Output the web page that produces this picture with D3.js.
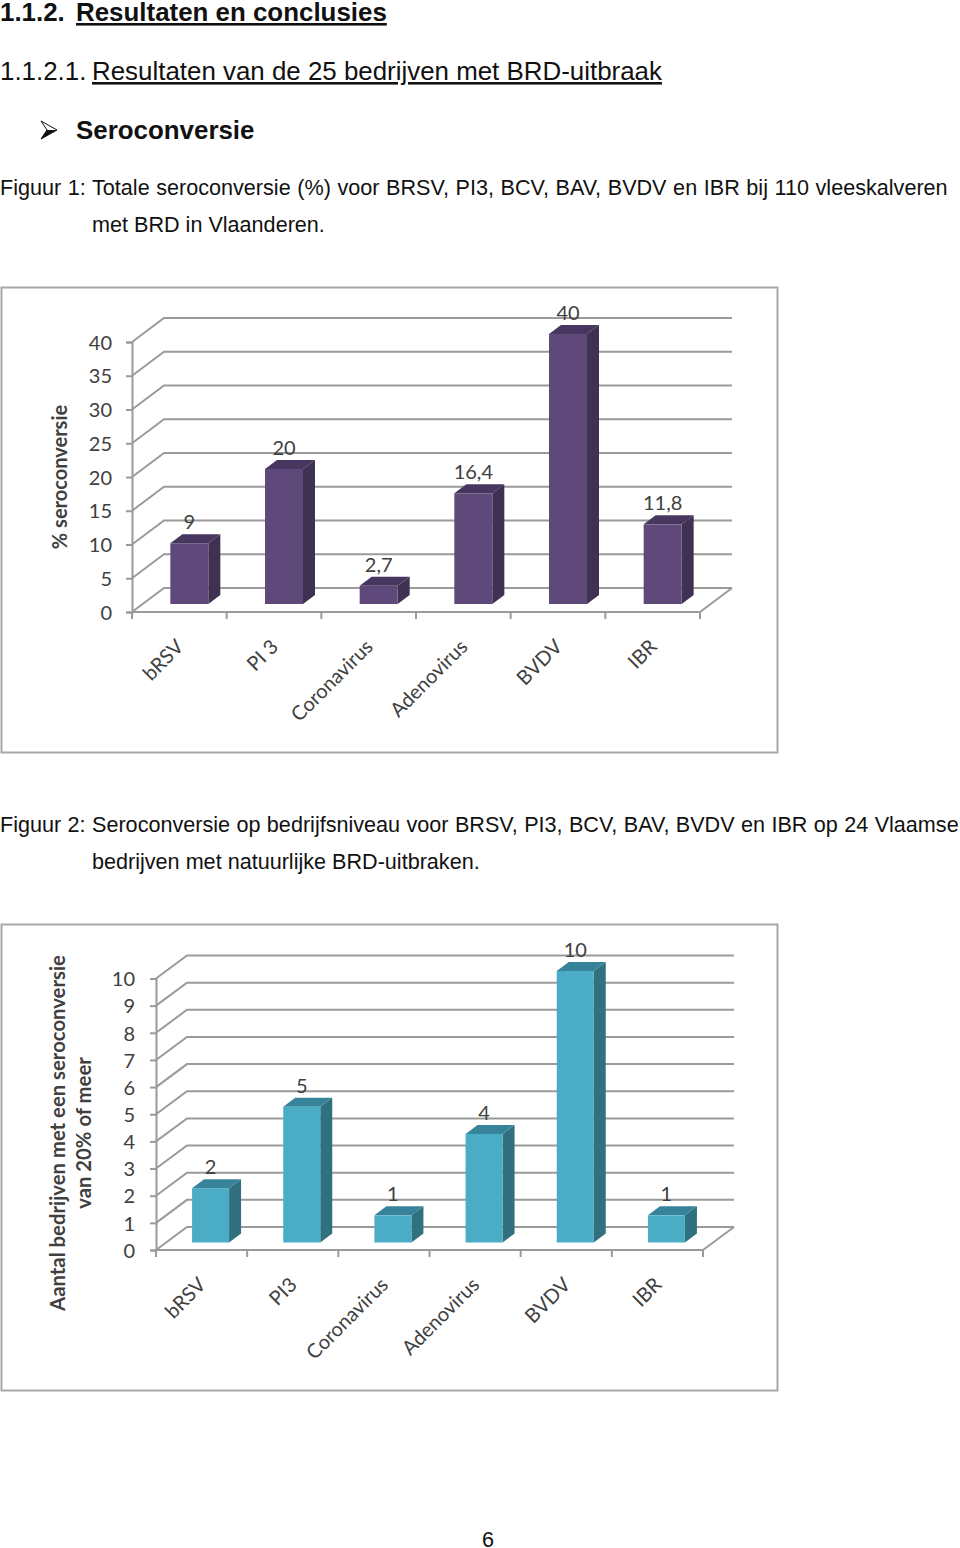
<!DOCTYPE html>
<html><head><meta charset="utf-8">
<script src="https://cdnjs.cloudflare.com/ajax/libs/d3/7.8.5/d3.min.js"></script>
<style>
html,body{margin:0;padding:0;background:#fff}
svg{display:block}
.doc{font-family:"Liberation Sans",Arial,sans-serif;fill:#111}
.ch{font-family:Lato,"Open Sans",sans-serif;fill:#404040}
</style></head><body>
<svg id="page" width="960" height="1548"></svg>
<script>
const categoriesA = ["bRSV","PI 3","Coronavirus","Adenovirus","BVDV","IBR"];
const valuesA = [9,20,2.7,16.4,40,11.8];
const ticksA = [0,5,10,15,20,25,30,35,40];
const categoriesB = ["bRSV","PI3","Coronavirus","Adenovirus","BVDV","IBR"];
const valuesB = [2,5,1,4,10,1];
const ticksB = [0,1,2,3,4,5,6,7,8,9,10];

const svg = d3.select("#page");
const fmt = v => String(v).replace(".", ",");

function docText(x, y, str, size, opts = {}) {
  return svg.append("text").attr("class","doc").attr("x",x).attr("y",y)
    .attr("font-size",size).attr("font-weight",opts.bold?"700":"400")
    .attr("word-spacing",opts.ws||null)
    .attr("text-decoration",opts.under?"underline":null).text(str);
}
docText(0,21,"1.1.2.",25.9,{bold:true});
docText(76,21,"Resultaten en conclusies",25.9,{bold:true,under:true});
docText(0,80,"1.1.2.1.",25.9);
docText(92,80,"Resultaten van de 25 bedrijven met BRD-uitbraak",25.9,{under:true});
docText(76,139,"Seroconversie",25.9,{bold:true});
svg.append("path").attr("d","M41 121L57 130L41 139L47 130Z").attr("fill","#fff").attr("stroke","#111").attr("stroke-width",1);
svg.append("path").attr("d","M41 139L57 130L47 130Z").attr("fill","#111");
docText(0,195,"Figuur 1: Totale seroconversie (%) voor BRSV, PI3, BCV, BAV, BVDV en IBR bij 110 vleeskalveren",21.6,{ws:.6});
docText(92,232,"met BRD in Vlaanderen.",21.6);
docText(0,832,"Figuur 2: Seroconversie op bedrijfsniveau voor BRSV, PI3, BCV, BAV, BVDV en IBR op 24 Vlaamse",21.6,{ws:.4});
docText(92,869,"bedrijven met natuurlijke BRD-uitbraken.",21.6);
docText(482,1547,"6",21.6);

function chart(c) {
  const g = svg.append("g");
  g.append("rect").attr("x",1.5).attr("y",c.frameTop+.5).attr("width",776).attr("height",c.frameH)
    .attr("fill","#fff").attr("stroke","#a8a8a8").attr("stroke-width",2);
  const x = d3.scaleBand().domain(c.categories).range([c.x0,c.x1]);
  const y = d3.scaleLinear().domain([0,c.max]).range([c.y0,c.yTop]);
  const grid = "#9a9a9a";

  g.selectAll(".grid").data(c.ticks).join("path")
    .attr("fill","none").attr("stroke",grid).attr("stroke-width",2)
    .attr("d",t=>`M${c.x0},${y(t)}L${c.x0+c.dx},${y(t)-c.dy}L${c.x1+c.dx},${y(t)-c.dy}`);
  g.append("path").attr("fill","none").attr("stroke",grid).attr("stroke-width",2)
    .attr("d",`M${c.x1},${c.y0}L${c.x1+c.dx},${c.y0-c.dy}`);

  const ax = g.append("g").attr("transform",`translate(${c.x0},0)`)
    .call(d3.axisLeft(y).tickValues(c.ticks).tickSize(6).tickPadding(c.pad).tickFormat(d=>d));
  ax.select(".domain").attr("stroke",grid).attr("stroke-width",2);
  ax.selectAll(".tick line").attr("stroke",grid).attr("stroke-width",2);
  ax.selectAll("text").attr("class","ch").attr("font-family","Lato").attr("font-size",c.fs).attr("fill","#404040").attr("dy",".36em");

  const xAx = g.append("g").attr("transform",`translate(0,${c.y0})`);
  xAx.append("line").attr("x1",c.x0).attr("x2",c.x1).attr("stroke",grid).attr("stroke-width",2);
  const edges = c.categories.map(d=>x(d)).concat([c.x1]);
  xAx.selectAll(".t").data(edges).join("line").attr("x1",d=>d).attr("x2",d=>d).attr("y1",0).attr("y2",7)
    .attr("stroke",grid).attr("stroke-width",2);
  g.selectAll(".cat").data(c.categories).join("text").attr("class","ch")
    .attr("font-size",c.fs).attr("text-anchor","end")
    .attr("transform",d=>`translate(${x(d)+x.bandwidth()/2+c.catDx},${c.y0+c.catDy}) rotate(-45)`)
    .text(d=>d);

  const rows = c.categories.map((n,i)=>({n,v:c.values[i]}));
  const bw = c.bw, sx = 12, sy = 9;
  const left = d=>x(d.n)+x.bandwidth()/2-bw/2+c.shiftX;
  const base = c.y0-c.shiftY;
  const top = d=>base-(c.y0-y(d.v));
  const b = g.selectAll(".bar").data(rows).join("g");
  b.append("path").attr("fill",c.side)
    .attr("d",d=>`M${left(d)+bw},${top(d)}l${sx},${-sy}V${base-sy}l${-sx},${sy}Z`);
  b.append("path").attr("fill",c.topc)
    .attr("d",d=>`M${left(d)},${top(d)}l${sx},${-sy}h${bw}l${-sx},${sy}Z`);
  b.append("rect").attr("fill",c.front).attr("x",left).attr("y",top).attr("width",bw).attr("height",d=>base-top(d));
  b.append("text").attr("class","ch").attr("font-size",c.fs).attr("text-anchor","middle")
    .attr("x",d=>left(d)+bw/2).attr("y",d=>top(d)-14).text(d=>fmt(d.v));

  c.title.forEach(l=>{
    g.append("text").attr("class","ch").attr("font-size",l.fs).attr("font-weight",700).attr("fill","#404040")
      .attr("text-anchor","middle").attr("transform",`translate(${l.x},${l.y}) rotate(-90)`).text(l.t);
  });
}

chart({categories:categoriesA,values:valuesA,ticks:ticksA,max:40,frameTop:287,frameH:465,
  x0:132,x1:700,y0:612,yTop:342,dx:32,dy:24,bw:38,shiftX:10,shiftY:8,pad:14,fs:20,catDx:5.5,catDy:36,
  front:"#5f497a",side:"#3f3151",topc:"#47365f",
  title:[{t:"% seroconversie",x:67,y:477,fs:20}]});
chart({categories:categoriesB,values:valuesB,ticks:ticksB,max:10,frameTop:924,frameH:466,
  x0:156,x1:703,y0:1250,yTop:978.5,dx:31,dy:23,bw:37,shiftX:9,shiftY:7.5,pad:15,fs:20,catDx:5.5,catDy:36,
  front:"#4bacc6",side:"#31707f",topc:"#37839a",
  title:[{t:"Aantal bedrijven met een seroconversie",x:65,y:1133,fs:20.3},{t:"van 20% of meer",x:91,y:1133,fs:20.3}]});
</script></body></html>
